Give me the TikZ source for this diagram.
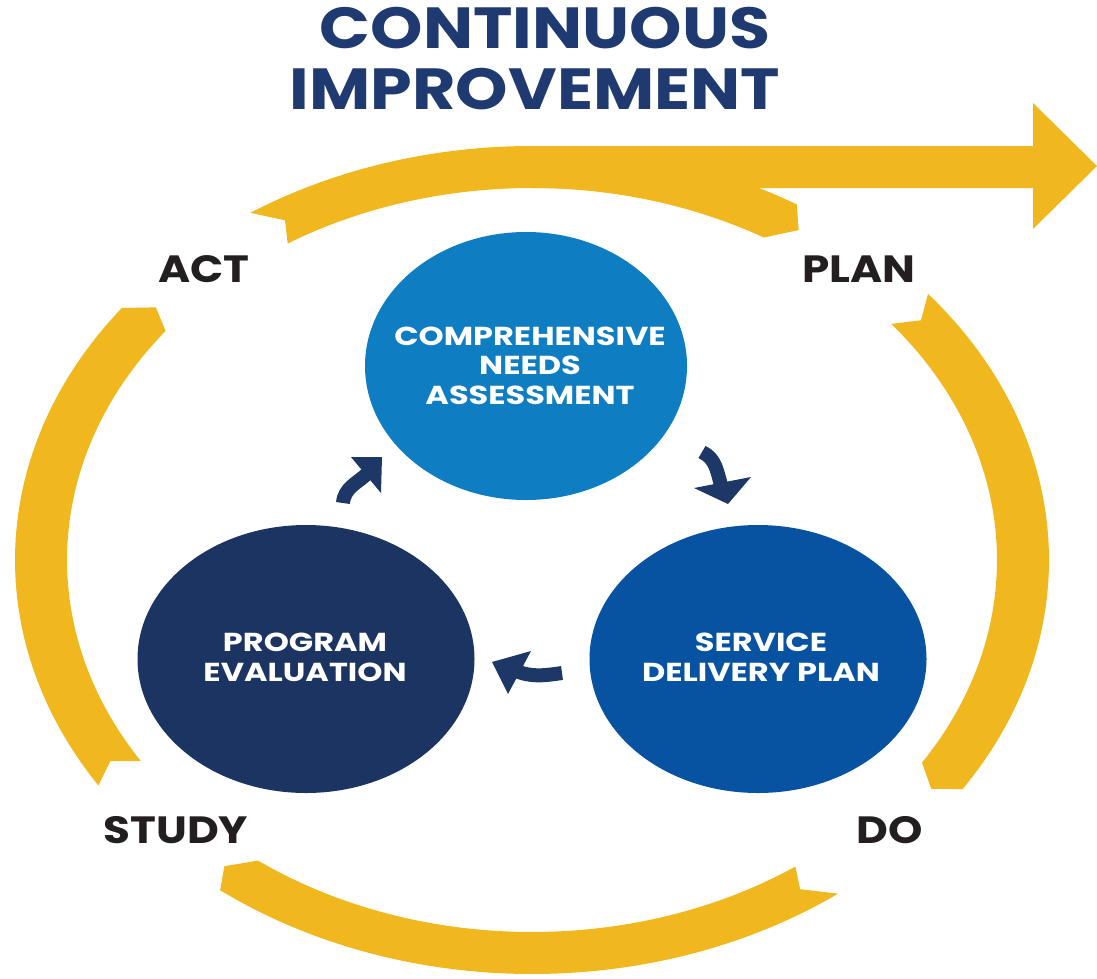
\documentclass[tikz,border=0pt]{standalone}
\usepackage{fontspec}
\setmainfont{Poppins}
\usetikzlibrary{arrows.meta,shapes.geometric}
\definecolor{yel}{HTML}{F0B81E}
\definecolor{ttl}{HTML}{1F3A70}
\definecolor{cnac}{HTML}{0E7DC2}
\definecolor{sdpc}{HTML}{0753A1}
\definecolor{pevc}{HTML}{1C3462}
\definecolor{arw}{HTML}{1D3766}
\definecolor{lbl}{HTML}{231F20}
\tikzset{
  bubble/.style={ellipse, inner sep=0pt, draw=none},
  titletxt/.style={anchor=base, text=ttl, font=\fontsize{58}{60}\selectfont\bfseries, xscale=1.15, inner sep=0pt},
  phase/.style={anchor=base, text=lbl, font=\fontsize{38}{40}\selectfont\bfseries, xscale=1.15, inner sep=0pt},
  intxt/.style={anchor=base, text=white, align=center, font=\fontsize{26}{29.5}\selectfont\bfseries, xscale=1.23, inner sep=0pt},
  shaft/.style={draw=arw, line width=14pt},
  arrhead/.style={fill=arw},
  band/.style={fill=yel}
}
\begin{document}
\begin{tikzpicture}[x=1pt,y=1pt]
\useasboundingbox (0,0) rectangle (1097,-978);

% yellow PDCA ring
\begin{scope}[shift={(532,-560)}]
  % top arc ACT -> PLAN
  \fill[band] (123:517pt and 414pt) arc[start angle=123, end angle=59.2, x radius=517pt, y radius=414pt]
    -- (57.1:491pt and 393pt) -- (60.1:465pt and 372pt)
    arc[start angle=60.1, end angle=121.7, x radius=465pt, y radius=372pt]
    -- (120.2:491pt and 393pt) -- cycle;
  % right arc PLAN -> DO
  \fill[band] (40:517pt and 414pt) arc[start angle=40, end angle=-33.6, x radius=517pt, y radius=414pt]
    -- (-35.6:491pt and 393pt) -- (-33:465pt and 372pt)
    arc[start angle=-33, end angle=39.4, x radius=465pt, y radius=372pt]
    -- (37.6:491pt and 393pt) -- cycle;
  % bottom arc DO -> STUDY
  \fill[band] (-53.7:517pt and 414pt) arc[start angle=-53.7, end angle=-127.1, x radius=517pt, y radius=414pt]
    -- (-128.8:491pt and 393pt) -- (-126.1:465pt and 372pt)
    arc[start angle=-126.1, end angle=-55.5, x radius=465pt, y radius=372pt]
    -- (-56.9:491pt and 393pt) -- cycle;
  % left arc STUDY -> ACT
  \fill[band] (213:517pt and 414pt) arc[start angle=213, end angle=142.5, x radius=517pt, y radius=414pt]
    -- (140:491pt and 393pt) -- (142:465pt and 372pt)
    arc[start angle=142, end angle=212.7, x radius=465pt, y radius=372pt]
    -- (210.8:491pt and 393pt) -- cycle;
\end{scope}
% straight continuous-improvement arrow
\fill[band] (532,-146) -- (1033,-146) -- (1033,-103) -- (1097,-166) -- (1033,-229) -- (1033,-188) -- (532,-188) -- cycle;

% title
\node[titletxt] (t1) at (545,-48) {CONTINUOUS};
\node[titletxt] (t2) at (535,-109) {IMPROVEMENT};

% phase labels
\node[phase] (act) at (204,-282) {ACT};
\node[phase] (plan) at (859,-282) {PLAN};
\node[phase] (study) at (176,-843) {STUDY};
\node[phase] (do) at (890,-843) {DO};

% bubbles
\node[bubble, fill=cnac, minimum width=322pt, minimum height=268pt] (cna) at (526,-366) {};
\node[bubble, fill=sdpc, minimum width=337pt, minimum height=268pt] (sdp) at (758,-659) {};
\node[bubble, fill=pevc, minimum width=337pt, minimum height=268pt] (pe) at (306,-659) {};

\node[intxt] (cnat) at (530,-404) {COMPREHENSIVE\\NEEDS\\ASSESSMENT};
\node[intxt] (sdpt) at (761,-681) {SERVICE\\DELIVERY PLAN};
\node[intxt] (pet) at (305,-681) {PROGRAM\\EVALUATION};

% small cycle arrows: PE -> CNA
\coordinate (a1s) at (343,-503);
\coordinate (a1b) at (368,-473);
\coordinate (a1t) at (382,-457);
\coordinate (a1l) at (351,-457);
\coordinate (a1r) at (381,-493);
\draw[shaft] (a1s) to[out=85,in=223] (a1b);
\fill[arrhead] (a1t) -- (a1l) -- (a1r) -- cycle;
% CNA -> SDP
\coordinate (a2s) at (702,-452);
\coordinate (a2b) at (721,-485);
\coordinate (a2t) at (728,-504);
\coordinate (a2l) at (694,-488);
\coordinate (a2r) at (751,-477);
\draw[shaft] (a2s) to[out=-25,in=106] (a2b);
\fill[arrhead] (a2t) -- (a2l) -- (a2r) -- cycle;
% SDP -> PE
\coordinate (a3s) at (562,-673);
\coordinate (a3b) at (516,-671);
\coordinate (a3t) at (492,-662);
\coordinate (a3l) at (531,-651);
\coordinate (a3r) at (508,-694);
\draw[shaft] (a3s) to[out=188,in=-21] (a3b);
\fill[arrhead] (a3t) -- (a3l) -- (a3r) -- cycle;
\end{tikzpicture}
\end{document}
